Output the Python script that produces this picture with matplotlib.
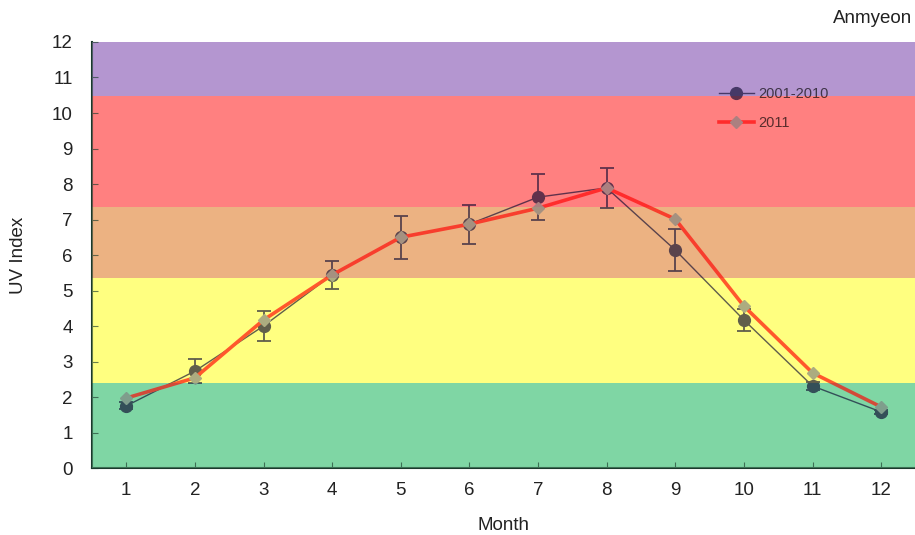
import matplotlib.pyplot as plt
from matplotlib.lines import Line2D

plt.rcParams['font.family'] = ['Liberation Sans', 'DejaVu Sans']

months = list(range(1, 13))
uv_2001_2010 = [1.75, 2.73, 4.00, 5.44, 6.50, 6.87, 7.63, 7.89, 6.14, 4.17, 2.31, 1.58]
err_2001_2010 = [0.10, 0.33, 0.42, 0.40, 0.60, 0.55, 0.65, 0.57, 0.58, 0.30, 0.12, 0.05]
uv_2011 = [1.97, 2.54, 4.17, 5.44, 6.50, 6.87, 7.32, 7.89, 7.01, 4.56, 2.68, 1.72]

# UV category bands (lower, upper, colour)
band_edges = [0, 2.4, 5.35, 7.35, 10.47, 12]
band_colors = ['#7fd6a4', '#ffff80', '#ecb282', '#ff8080', '#b496d0']

navy = '#0c0830'
fig = plt.figure(figsize=(9.15, 5.35), dpi=100)
ax = fig.add_axes([0.1005, 0.1252, 0.90, 0.7963])

for lo, hi, c in zip(band_edges[:-1], band_edges[1:], band_colors):
    ax.axhspan(lo, hi, color=c, zorder=0, lw=0)

ax.errorbar(months, uv_2001_2010, yerr=err_2001_2010, color=navy, marker='o',
            markersize=8.5, lw=1.0, capsize=5, elinewidth=1.3, capthick=1.3, zorder=3)
ax.plot(months, uv_2011, color='#ff0000', lw=2.6, marker='D', markersize=6,
        markerfacecolor='#808080', markeredgecolor='#808080', zorder=4)

handles = [Line2D([], [], color=navy, lw=1.0, marker='o', markersize=8.5),
           Line2D([], [], color='#ff0000', lw=2.6, marker='D', markersize=6,
                  markerfacecolor='#808080', markeredgecolor='#808080')]
leg = ax.legend(handles, ['2001-2010', '2011'], loc='upper left',
                bbox_to_anchor=(0.745, 0.925), frameon=False, fontsize=10.5,
                handlelength=2.4, handletextpad=0.3, labelspacing=1.0)
for t in leg.get_texts():
    t.set_color('#000000')
leg.set_zorder(5)

# translucent overlay so lines pick up the band tint
for lo, hi, c in zip(band_edges[:-1], band_edges[1:], band_colors):
    ax.axhspan(lo, hi, color=c, alpha=0.35, zorder=6, lw=0)

ax.set_xlim(0.5, 12.5)
ax.set_ylim(0, 12)
ax.set_xticks(months)
ax.set_yticks(range(0, 13))
ax.tick_params(direction='in', length=4, labelsize=13.5, colors='#1a3a2c', labelcolor='#222222')
ax.tick_params(axis='x', pad=10)
ax.tick_params(axis='y', pad=14)
for s in ['top', 'right']:
    ax.spines[s].set_visible(False)
for s in ['left', 'bottom']:
    ax.spines[s].set_color('#1a3a2c')
    ax.spines[s].set_linewidth(1.5)

ax.set_xlabel('Month', fontsize=13.5, labelpad=13, color='#222222')
ax.set_ylabel('UV Index', fontsize=13.5, labelpad=18, color='#222222')
fig.text(0.997, 0.965, 'Anmyeon', ha='right', va='center', fontsize=13.5, color='#222222')

fig.savefig('out.png', dpi=100)
